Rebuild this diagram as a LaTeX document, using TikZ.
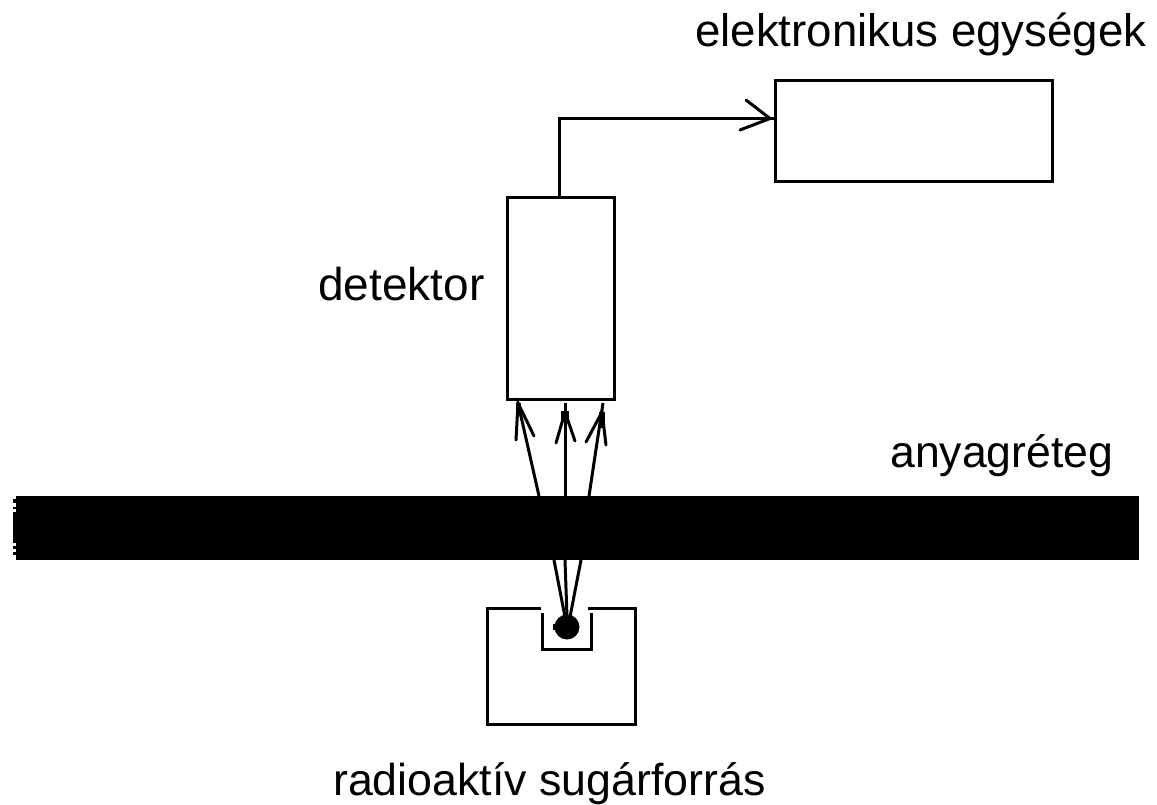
\documentclass[tikz,border=0pt]{standalone}
\usepackage{fontspec}
\setmainfont{Liberation Sans}
\tikzset{
  lbl/.style={anchor=base west,inner sep=0pt,font=\fontsize{#1}{50}\selectfont},
  box/.style={draw=black,line width=3pt,rectangle,inner sep=0pt,outer sep=0pt,fill=white},
  wire/.style={draw=black,line width=3pt,line join=miter},
  ray/.style={draw=black,line width=3pt},
  tipline/.style={draw=black,line width=3pt,line cap=round},
}
\begin{document}
\begin{tikzpicture}[x=1pt,y=-1pt]
\useasboundingbox (0,0) rectangle (1157,805);
% text
\node[lbl=45.6] (telek) at (695,47) {elektronikus egységek};
\node[lbl=46] (tdet) at (318,300) {detektor};
\node[lbl=44.6] (tany) at (890,467) {anyagréteg};
\node[lbl=44.7] (trad) at (333,795) {radioaktív sugárforrás};
% coordinates
\coordinate (bend) at (559,118.5);
\coordinate (wireend) at (775,118.5);
\coordinate (headtip) at (770,118.5);
\coordinate (headA) at (746,100);
\coordinate (headB) at (740,130);
\coordinate (lt) at (518,403);
\coordinate (lb) at (539,496);
\coordinate (ct) at (565,403);
\coordinate (cb) at (565,496);
\coordinate (rt) at (603,403);
\coordinate (rb) at (589,496);
\coordinate (ls) at (554,560);
\coordinate (cs) at (565,560);
\coordinate (rs) at (581,560);
\coordinate (be) at (565,617);
\coordinate (ce) at (567,617);
\coordinate (re) at (570,617);
% boxes
\node[box,minimum width=277pt,minimum height=101pt] (elec) at (914,131) {};
\node[box,minimum width=107pt,minimum height=202pt] (det) at (561,298.5) {};
\node[rectangle,fill=black,inner sep=0pt,outer sep=0pt,minimum width=1123pt,minimum height=64pt] (layer) at (577.5,528) {};
\fill[black] (13,512) rectangle (16,543);
\fill[black] (13,499) rectangle (16,503);
\fill[black] (13,507) rectangle (16,509);
\fill[black] (13,546) rectangle (16,549);
\fill[black] (13,552) rectangle (16,555);
% connector
\draw[wire] (det.north -| bend) -- (bend) -- (wireend);
\draw[tipline] (headA) -- (headtip) -- (headB);
% rays
\draw[ray] (lb) -- (lt);
\draw[ray] (cb) -- (ct);
\draw[ray] (rb) -- (rt);
\draw[tipline] (516,440) -- (lt) -- (534,436);
\draw[tipline] (556,443) -- (565,412) -- (575,441);
\draw[tipline] (586,442) -- (602,412) -- (606,445);
\fill[black] (561,411) rectangle (569,422);
\fill[black] (516,403) rectangle (521,412);
\fill[black] (599,412) rectangle (605,428);
% source
\draw[wire] (541,608.5) -- (487.5,608.5) -- (487.5,724.5) -- (635.5,724.5) -- (635.5,608.5) -- (588,608.5);
\draw[wire] (542.5,613) -- (542.5,649) -- (591.5,649) -- (591.5,613);
\node[circle,fill=black,inner sep=0pt,outer sep=0pt,minimum size=25pt] (ball) at (567,627) {};
\draw[ray] (ls) -- (be);
\draw[ray] (cs) -- (ce);
\draw[ray] (rs) -- (re);
\fill[black] (553,624) rectangle (558,630);
\end{tikzpicture}
\end{document}
